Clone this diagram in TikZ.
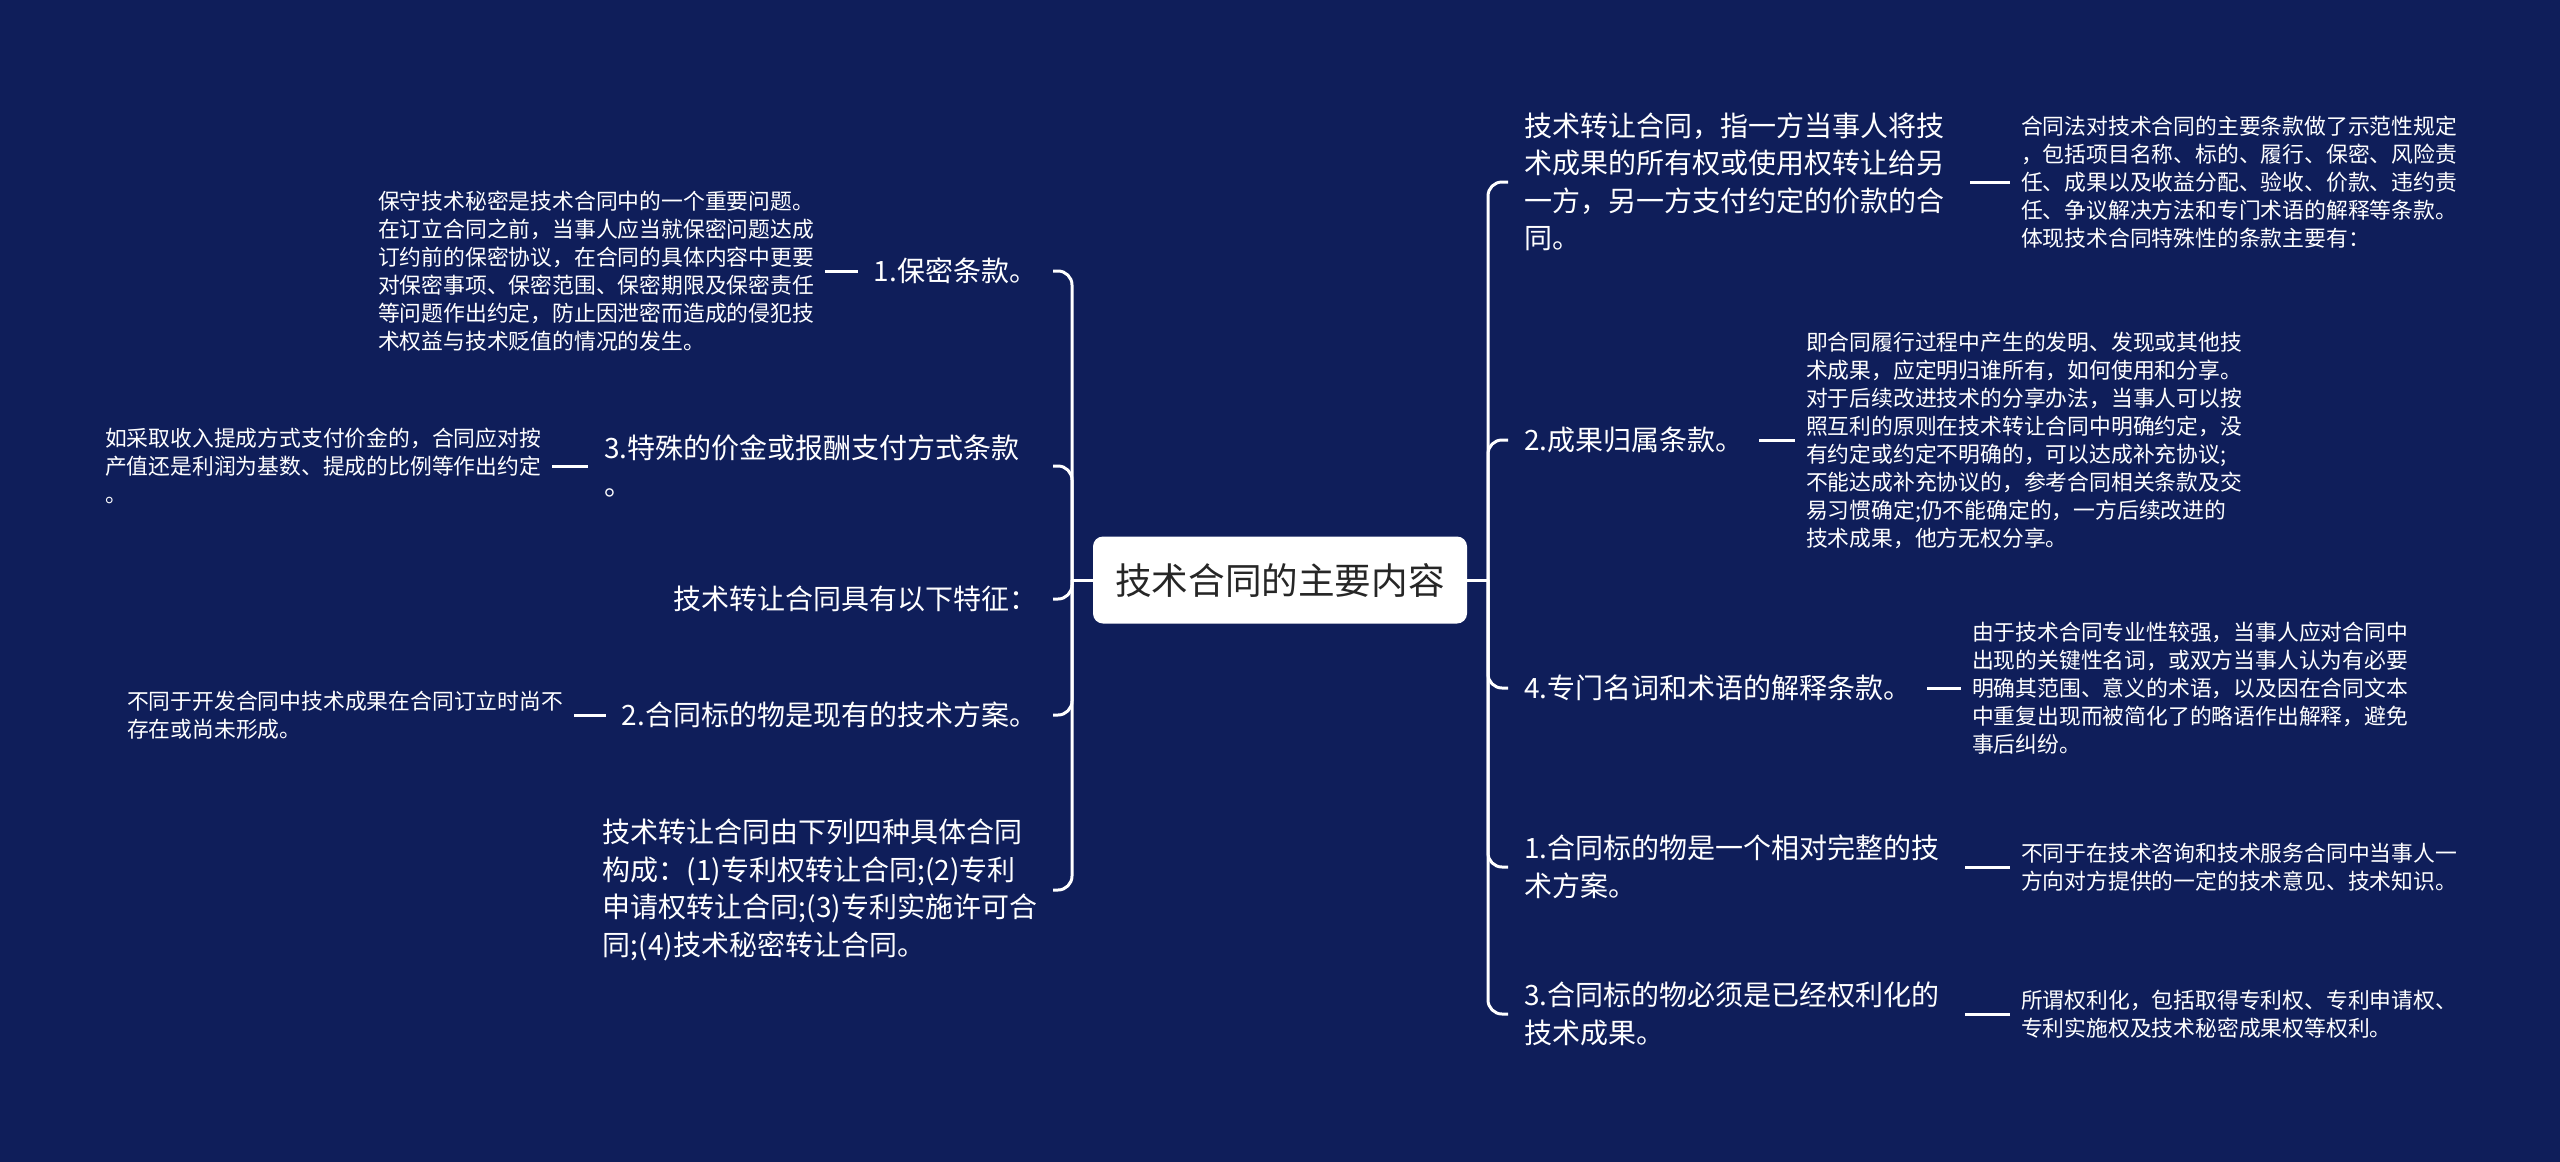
\documentclass[tikz,border=0pt]{standalone}
\usepackage{fontspec}
\newfontfamily\cjk{Noto Sans CJK SC}
\definecolor{bgcol}{HTML}{0F1E5A}
\begin{document}
\begin{tikzpicture}[x=0.5pt,y=-0.5pt,
  conn/.style={draw=white,line width=1.5pt,rounded corners=7pt},
  item/.style={text=white,font=\cjk\fontsize{14}{18.75}\selectfont,align=left,inner sep=0pt,outer xsep=8pt},
  detail/.style={text=white,font=\cjk\fontsize{10.9}{14}\selectfont,align=left,inner sep=0pt,outer xsep=5.5pt},
  rootbox/.style={fill=white,rounded corners=5pt,text=black!85,font=\cjk\fontsize{18.3}{22}\selectfont,minimum width=187pt,minimum height=43.5pt,inner sep=0pt}]
\fill[bgcol] (0,0) rectangle (2560,1162);
\useasboundingbox (0,0) rectangle (2560,1162);

% root
\node[rootbox] (root) at (1280,580) {技术合同的主要内容};
\coordinate (lj) at (1072,580);
\coordinate (rj) at (1488,580);

% left items
\node[item,anchor=east] (L1) at (1053,271) {1.保密条款。};
\node[item,anchor=east,text width=216.5pt] (L2) at (1053,466) {3.特殊的价金或报酬支付方式条款\\。};
\node[item,anchor=east] (L3) at (1053,599) {技术转让合同具有以下特征：};
\node[item,anchor=east] (L4) at (1053,715) {2.合同标的物是现有的技术方案。};
\node[item,anchor=east] (L5) at (1053,890) {技术转让合同由下列四种具体合同\\构成：(1)专利权转让合同;(2)专利\\申请权转让合同;(3)专利实施许可合\\同;(4)技术秘密转让合同。};

% left details
\node[detail,anchor=east] (L1d) at (825,271) {保守技术秘密是技术合同中的一个重要问题。\\在订立合同之前，当事人应当就保密问题达成\\订约前的保密协议，在合同的具体内容中更要\\对保密事项、保密范围、保密期限及保密责任\\等问题作出约定，防止因泄密而造成的侵犯技\\术权益与技术贬值的情况的发生。};
\node[detail,anchor=east] (L2d) at (552,466) {如采取收入提成方式支付价金的，合同应对按\\产值还是利润为基数、提成的比例等作出约定\\。};
\node[detail,anchor=east] (L4d) at (574,715) {不同于开发合同中技术成果在合同订立时尚不\\存在或尚未形成。};

% right items
\node[item,anchor=west] (R1) at (1508,182) {技术转让合同，指一方当事人将技\\术成果的所有权或使用权转让给另\\一方，另一方支付约定的价款的合\\同。};
\node[item,anchor=west] (R2) at (1508,440) {2.成果归属条款。};
\node[item,anchor=west] (R3) at (1508,688) {4.专门名词和术语的解释条款。};
\node[item,anchor=west] (R4) at (1508,867) {1.合同标的物是一个相对完整的技\\术方案。};
\node[item,anchor=west] (R5) at (1508,1014) {3.合同标的物必须是已经权利化的\\技术成果。};

% right details
\node[detail,anchor=west] (R1d) at (2010,182) {合同法对技术合同的主要条款做了示范性规定\\，包括项目名称、标的、履行、保密、风险责\\任、成果以及收益分配、验收、价款、违约责\\任、争议解决方法和专门术语的解释等条款。\\体现技术合同特殊性的条款主要有：};
\node[detail,anchor=west] (R2d) at (1795,440) {即合同履行过程中产生的发明、发现或其他技\\术成果，应定明归谁所有，如何使用和分享。\\对于后续改进技术的分享办法，当事人可以按\\照互利的原则在技术转让合同中明确约定，没\\有约定或约定不明确的，可以达成补充协议;\\不能达成补充协议的，参考合同相关条款及交\\易习惯确定;仍不能确定的，一方后续改进的\\技术成果，他方无权分享。};
\node[detail,anchor=west] (R3d) at (1961,688) {由于技术合同专业性较强，当事人应对合同中\\出现的关键性名词，或双方当事人认为有必要\\明确其范围、意义的术语，以及因在合同文本\\中重复出现而被简化了的略语作出解释，避免\\事后纠纷。};
\node[detail,anchor=west] (R4d) at (2010,867) {不同于在技术咨询和技术服务合同中当事人一\\方向对方提供的一定的技术意见、技术知识。};
\node[detail,anchor=west] (R5d) at (2010,1014) {所谓权利化，包括取得专利权、专利申请权、\\专利实施权及技术秘密成果权等权利。};

% connectors
\draw[conn] (root.west) -- (lj);
\draw[conn] (root.east) -- (rj);
\foreach \n in {L1,L2,L3,L4,L5} { \draw[conn] (lj) |- (\n.east); }
\foreach \n in {R1,R2,R3,R4,R5} { \draw[conn] (rj) |- (\n.west); }
\draw[conn] (L1.west) -- (L1d.east);
\draw[conn] (L2.west) -- (L2d.east);
\draw[conn] (L4.west) -- (L4d.east);
\draw[conn] ([xshift=5pt]R1.east) -- (R1d.west);
\draw[conn] (R2.east) -- (R2d.west);
\draw[conn] (R3.east) -- (R3d.west);
\draw[conn] ([xshift=5pt]R4.east) -- (R4d.west);
\draw[conn] ([xshift=5pt]R5.east) -- (R5d.west);
\end{tikzpicture}
\end{document}
